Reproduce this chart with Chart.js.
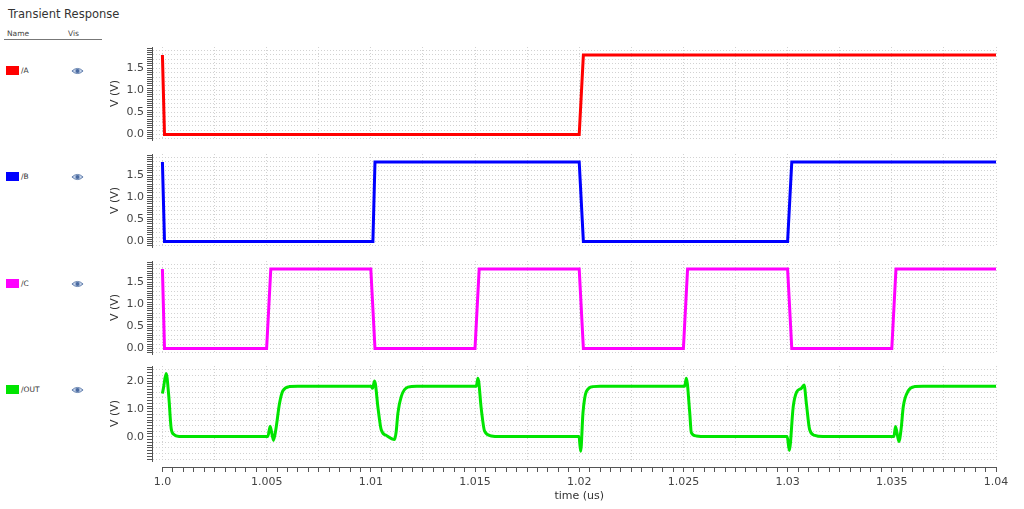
<!DOCTYPE html>
<html>
<head>
<meta charset="utf-8">
<title>Transient Response</title>
<script src="https://cdn.jsdelivr.net/npm/chart.js@4.4.1/dist/chart.umd.min.js"></script>
<style>
  html, body { margin: 0; padding: 0; background: #fff; }
  body { width: 1024px; height: 509px; position: relative; overflow: hidden; font-family: "DejaVu Sans", sans-serif; color: #333; }
  canvas { position: absolute; }
  .title { position: absolute; left: 8px; top: 7px; font-size: 11.5px; color: #333; }
  .hdr { position: absolute; top: 29px; font-size: 7.5px; color: #444; }
  .rule { position: absolute; left: 4px; top: 39px; width: 98px; height: 1px; background: #777; }
  .row { position: absolute; left: 0; width: 100px; height: 12px; }
  .sw { position: absolute; left: 6px; top: 1px; width: 13px; height: 9px; }
  .name { position: absolute; left: 21px; top: 0; font-size: 7.5px; line-height: 12px; color: #333; }
  .eye { position: absolute; left: 71px; top: 2px; width: 13px; height: 8px; }
</style>
</head>
<body>
<div class="title">Transient Response</div>
<div class="hdr" style="left:7px">Name</div>
<div class="hdr" style="left:68px">Vis</div>
<div class="rule"></div>
<div id="legend"></div>

<canvas id="panelA"></canvas>
<canvas id="panelB"></canvas>
<canvas id="panelC"></canvas>
<canvas id="panelOut"></canvas>
<canvas id="timeAxis"></canvas>

<script>
// time axis labels (us)
const timeTicks = [1.0, 1.005, 1.01, 1.015, 1.02, 1.025, 1.03, 1.035, 1.04];
const timeLabels = ["1.0", "1.005", "1.01", "1.015", "1.02", "1.025", "1.03", "1.035", "1.04"];

// voltage labels
const voltTicks = [0, 0.5, 1.0, 1.5];
const voltLabels = ["0.0", "0.5", "1.0", "1.5"];
const outTicks = [0, 1, 2];
const outLabels = ["0.0", "1.0", "2.0"];

// /A
const timeA = [1.0, 1.0001, 1.0200, 1.0202, 1.04];
const voltA = [1.8, 0.0, 0.0, 1.8, 1.8];

// /B
const timeB = [1.0, 1.0001, 1.0101, 1.0102, 1.0200, 1.0202, 1.0300, 1.0302, 1.04];
const voltB = [1.8, 0.0, 0.0, 1.8, 1.8, 0.0, 0.0, 1.8, 1.8];

// /C
const timeC = [1.0, 1.0001, 1.0050, 1.0052, 1.0100, 1.0102, 1.0150, 1.0152, 1.0200,
               1.0202, 1.0250, 1.0252, 1.0300, 1.0302, 1.0350, 1.0352, 1.04];
const voltC = [1.8, 0.0, 0.0, 1.8, 1.8, 0.0, 0.0, 1.8, 1.8,
               0.0, 0.0, 1.8, 1.8, 0.0, 0.0, 1.8, 1.8];

// /OUT
const timeOut = [1.0, 1.00005, 1.00018, 1.0003, 1.00042, 1.00055, 1.0008,
  1.00506, 1.00517, 1.00533, 1.00545, 1.00562, 1.00578, 1.0061, 1.0065,
  1.01002, 1.01008, 1.01018, 1.01035, 1.0105, 1.01074, 1.01114, 1.01122, 1.0113, 1.01146, 1.01178, 1.0122,
  1.01506, 1.01514, 1.0153, 1.01546, 1.01578, 1.0162,
  1.01999, 1.02007, 1.02018, 1.02034, 1.02066, 1.021,
  1.02506, 1.02514, 1.0253, 1.02538, 1.02562, 1.026,
  1.02998, 1.03008, 1.03027, 1.03043, 1.03066, 1.03079, 1.0309, 1.03106, 1.0313, 1.0317,
  1.0351, 1.03518, 1.03534, 1.03545, 1.03555, 1.03579, 1.0361, 1.0365, 1.04];
const voltOut = [1.55, 1.75, 2.27, 1.5, 0.3, 0.08, 0.01,
  0.01, 0.38, -0.13, 0.3, 1.2, 1.65, 1.8, 1.81,
  1.81, 1.74, 2.0, 1.0, 0.25, 0.05, -0.1, 0.2, 0.85, 1.44, 1.78, 1.81,
  1.81, 2.1, 1.0, 0.2, 0.03, 0.01,
  0.01, -0.52, 0.85, 1.62, 1.8, 1.81,
  1.81, 2.1, 0.9, 0.15, 0.03, 0.01,
  0.01, -0.49, 1.08, 1.6, 1.74, 1.86, 1.2, 0.25, 0.05, 0.01,
  0.01, 0.37, -0.17, 0.3, 1.08, 1.65, 1.8, 1.81, 1.81];

const xMin = 0.9995;
const font = { family: "DejaVu Sans", size: 11 };

const panels = [
  { id: "panelA", name: "/A", color: "#ff0000", t: timeA, v: voltA, top: 47, h: 93, min: -0.125, max: 1.98, step: 0.05, grid: 0.1, ticks: voltTicks, labels: voltLabels },
  { id: "panelB", name: "/B", color: "#0000ff", t: timeB, v: voltB, top: 154, h: 93, min: -0.125, max: 1.98, step: 0.05, grid: 0.1, ticks: voltTicks, labels: voltLabels },
  { id: "panelC", name: "/C", color: "#ff00ff", t: timeC, v: voltC, top: 261, h: 93, min: -0.125, max: 1.98, step: 0.05, grid: 0.1, ticks: voltTicks, labels: voltLabels },
  { id: "panelOut", name: "/OUT", color: "#00e400", t: timeOut, v: voltOut, top: 366, h: 95, min: -0.87, max: 2.54, step: 0.1, grid: 0.2, ticks: outTicks, labels: outLabels, smooth: true }
];

function onStep(v, step) {
  const k = v / step;
  return Math.abs(k - Math.round(k)) < 1e-6;
}

function labelFor(v, ticks, labels) {
  const i = ticks.findIndex(t => Math.abs(t - v) < 1e-7);
  return i >= 0 ? labels[i] : "";
}

function stepTicks(min, max, step) {
  const out = [];
  for (let k = Math.ceil(min / step - 1e-9); k * step <= max + 1e-9; k++) {
    out.push({ value: Math.round(k * step * 1e6) / 1e6 });
  }
  return out;
}

// legend on the left
const legend = document.getElementById("legend");
const legendY = [65, 171, 278, 384];
panels.forEach((p, i) => {
  const row = document.createElement("div");
  row.className = "row";
  row.style.top = legendY[i] + "px";
  row.innerHTML = `
    <div class="sw" style="background:${p.color}"></div>
    <div class="name">${p.name}</div>
    <svg class="eye" viewBox="0 0 14 8">
      <path d="M1 4 Q7 -1.5 13 4 Q7 9.5 1 4Z" fill="#c5d3ea" stroke="#5a78a8" stroke-width="1"/>
      <circle cx="7" cy="4" r="2.2" fill="#4a6aa0"/>
    </svg>`;
  legend.appendChild(row);
});

panels.forEach(p => {
  const canvas = document.getElementById(p.id);
  canvas.width = 904;
  canvas.height = p.h + 16;
  canvas.style.left = "100px";
  canvas.style.top = (p.top - 8) + "px";

  new Chart(canvas, {
    type: "line",
    data: {
      datasets: [{
        data: p.t.map((x, i) => ({ x: x, y: p.v[i] })),
        borderColor: p.color,
        borderWidth: 3,
        pointRadius: 0,
        fill: false,
        tension: p.smooth ? 0.3 : 0,
        cubicInterpolationMode: p.smooth ? "monotone" : "default"
      }]
    },
    options: {
      responsive: false,
      animation: false,
      devicePixelRatio: 1,
      layout: { padding: { top: 8, bottom: 8, left: 0, right: 8 } },
      plugins: { legend: { display: false }, tooltip: { enabled: false } },
      scales: {
        x: {
          type: "linear",
          min: xMin,
          max: 1.04,
          ticks: { display: false },
          grid: { color: "#d2d2d2", drawTicks: false },
          border: { display: false, dash: [1, 2] },
          afterBuildTicks: s => { s.ticks = stepTicks(1.0, 1.04, 0.0025); },
          afterFit: s => { s.height = 0; s.paddingLeft = 0; s.paddingRight = 0; }
        },
        y: {
          min: p.min,
          max: p.max,
          ticks: {
            font: font,
            color: "#444",
            padding: 3,
            autoSkip: false,
            callback: v => labelFor(v, p.ticks, p.labels)
          },
          grid: {
            color: ctx => onStep(ctx.tick.value, p.grid) ? "#d2d2d2" : "rgba(0,0,0,0)",
            tickColor: "#555",
            tickLength: 5,
            tickWidth: 1
          },
          border: { display: true, color: "#555", width: 1, dash: [1, 2] },
          title: { display: true, text: "V (V)", font: font, color: "#333", padding: { top: 9, bottom: 0 } },
          afterBuildTicks: s => { s.ticks = stepTicks(p.min, p.max, p.step); },
          afterFit: s => { s.width = 52; s.paddingTop = 0; s.paddingBottom = 0; }
        }
      }
    }
  });
});

// shared time axis under the panels
const axisCanvas = document.getElementById("timeAxis");
axisCanvas.width = 924;
axisCanvas.height = 49;
axisCanvas.style.left = "100px";
axisCanvas.style.top = "460px";

new Chart(axisCanvas, {
  type: "line",
  data: { datasets: [] },
  options: {
    responsive: false,
    animation: false,
    devicePixelRatio: 1,
    layout: { padding: { top: 0, bottom: 0, left: 62.5, right: 28 } },
    plugins: { legend: { display: false }, tooltip: { enabled: false } },
    scales: {
      x: {
        type: "linear",
        min: 1.0,
        max: 1.04,
        ticks: {
          font: font,
          color: "#444",
          padding: 4,
          autoSkip: false,
          maxRotation: 0,
          callback: v => labelFor(v, timeTicks, timeLabels)
        },
        grid: { drawOnChartArea: false, tickColor: "#555", tickLength: 5, tickWidth: 1 },
        border: { display: true, color: "#555", width: 1 },
        title: { display: true, text: "time (us)", font: font, color: "#333", padding: { top: 0, bottom: 6 } },
        afterBuildTicks: s => { s.ticks = stepTicks(1.0, 1.04, 0.0005); },
        afterFit: s => { s.height = 42; s.paddingLeft = 0; s.paddingRight = 0; }
      },
      y: { display: false, min: 0, max: 1 }
    }
  }
});
</script>
</body>
</html>
